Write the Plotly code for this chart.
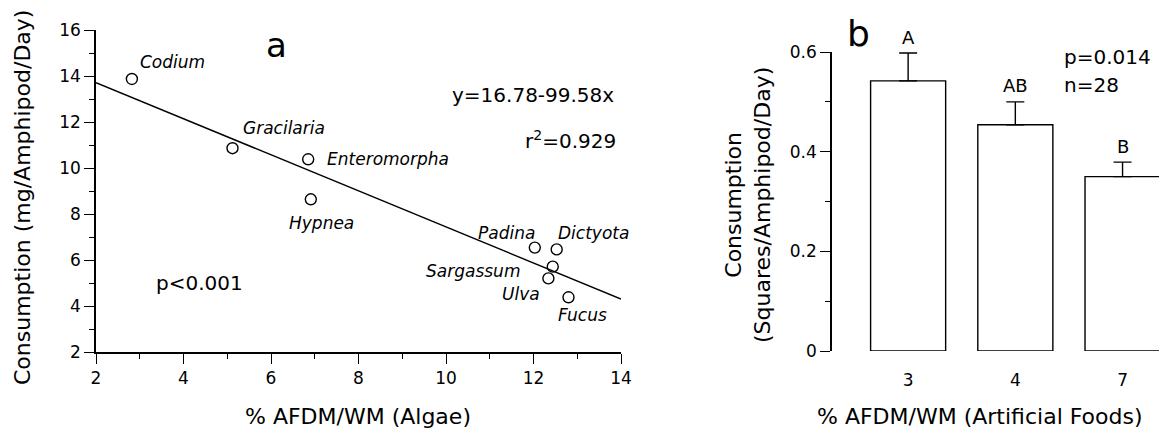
import plotly.graph_objects as go

# ---------------- data: panel a (algae) ----------------
species = ["Codium", "Gracilaria", "Enteromorpha", "Hypnea", "Padina",
           "Dictyota", "Sargassum", "Ulva", "Fucus"]
afdm_algae = [2.82, 5.12, 6.85, 6.91, 12.03, 12.53, 12.44, 12.34, 12.80]
consumption_algae = [13.87, 10.86, 10.38, 8.64, 6.54, 6.46, 5.71, 5.20, 4.38]
fit_x = [2, 14]
fit_y = [13.71, 4.30]

# ---------------- data: panel b (artificial foods) ----------------
food_labels = ["3", "4", "7"]
food_means = [0.542, 0.454, 0.350]
food_se = [0.056, 0.046, 0.029]
food_groups = ["A", "AB", "B"]

W, H = 1159, 428
FONT = "DejaVu Sans"

fig = go.Figure()

fig.add_trace(go.Scatter(
    x=fit_x, y=fit_y, mode="lines",
    line=dict(color="black", width=1.4),
    xaxis="x", yaxis="y", showlegend=False, hoverinfo="skip"))

fig.add_trace(go.Scatter(
    x=afdm_algae, y=consumption_algae, mode="markers",
    marker=dict(symbol="circle-open", size=11, color="black",
                line=dict(width=1.4, color="black")),
    xaxis="x", yaxis="y", showlegend=False, text=species))

pos = list(range(len(food_labels)))
fig.add_trace(go.Bar(
    x=pos, y=food_means, width=0.70,
    marker=dict(color="white", line=dict(color="black", width=1.4)),
    error_y=dict(type="data", symmetric=False, array=food_se,
                 arrayminus=[0] * len(food_se), color="black",
                 thickness=1.4, width=9),
    xaxis="x2", yaxis="y2", showlegend=False))

# species label offsets (pixels) relative to each point
label_style = {
    "Codium": (41, 17, "center"),
    "Gracilaria": (51, 20, "center"),
    "Enteromorpha": (17, 0, "left"),
    "Hypnea": (11, -24, "center"),
    "Padina": (2, 15, "right"),
    "Dictyota": (37, 16, "center"),
    "Sargassum": (-31, -4, "right"),
    "Ulva": (-6, -16, "right"),
    "Fucus": (14, -18, "center"),
}

ann = []
for name, xv, yv in zip(species, afdm_algae, consumption_algae):
    dx, dy, anc = label_style[name]
    ann.append(dict(x=xv, y=yv, xref="x", yref="y", text=name,
                    showarrow=False, xshift=dx, yshift=dy, xanchor=anc,
                    yanchor="middle",
                    font=dict(family=FONT, size=17, style="italic", color="black")))

for p, m, e, g in zip(pos, food_means, food_se, food_groups):
    ann.append(dict(x=p, y=m + e, xref="x2", yref="y2", text=g,
                    showarrow=False, yshift=16, yanchor="middle",
                    font=dict(family=FONT, size=18, color="black")))


def paper(px, py):
    return px / W, 1 - py / H


def txt(px, py, text, size=18, xanchor="center", angle=0, style="normal"):
    x, y = paper(px, py)
    ann.append(dict(x=x, y=y, xref="paper", yref="paper", text=text,
                    showarrow=False, xanchor=xanchor, yanchor="middle",
                    textangle=angle,
                    font=dict(family=FONT, size=size, color="black", style=style)))


txt(276, 45, "a", size=34)
txt(533, 95, "y=16.78-99.58x", size=20)
txt(570, 140, "r<sup>2</sup>=0.929", size=20)
txt(199, 283, "p<0.001", size=20)
txt(22, 198, "Consumption (mg/Amphipod/Day)", size=22, angle=-90)
txt(358, 416, "% AFDM/WM (Algae)", size=22)

txt(858, 33, "b", size=36)
txt(1062, 57, "p=0.014", size=20, xanchor="left")
txt(1062, 85, "n=28", size=20, xanchor="left")
txt(748, 205, "Consumption<br>(Squares/Amphipod/Day)", size=22, angle=-90)
txt(980, 416, "% AFDM/WM (Artificial Foods)", size=22)

axis_font = dict(family=FONT, size=17, color="black")
minor_common = dict(ticks="outside", ticklen=5, tickcolor="black", tickwidth=1.3)

fig.update_layout(
    width=W, height=H,
    margin=dict(l=0, r=0, t=0, b=0, pad=0, autoexpand=False),
    paper_bgcolor="white", plot_bgcolor="white",
    font=dict(family=FONT, color="black"),
    annotations=ann,
    xaxis=dict(domain=[96 / W, 621 / W], range=[2, 14], anchor="y",
               automargin=False,
               showline=True, linecolor="black", linewidth=1.5,
               ticks="outside", ticklen=10, tickwidth=1.3, tickcolor="black",
               tickvals=[2, 4, 6, 8, 10, 12, 14], showgrid=False, zeroline=False,
               minor=dict(dtick=1, **minor_common), tickfont=axis_font),
    yaxis=dict(domain=[(H - 352) / H, (H - 30) / H], range=[2, 16], anchor="x",
               automargin=False,
               showline=True, linecolor="black", linewidth=1.5,
               ticks="outside", ticklen=10, tickwidth=1.3, tickcolor="black",
               tickvals=[2, 4, 6, 8, 10, 12, 14, 16], showgrid=False, zeroline=False,
               minor=dict(dtick=1, **minor_common), tickfont=axis_font),
    xaxis2=dict(domain=[832 / W, 1.0], range=[-0.71, 2.34], anchor="y2",
                automargin=False,
                showline=False, ticks="outside", ticklen=14,
                tickcolor="rgba(0,0,0,0)", tickvals=pos, ticktext=food_labels,
                showgrid=False, zeroline=False, tickfont=axis_font),
    yaxis2=dict(domain=[(H - 351) / H, (H - 52) / H], range=[0, 0.6], anchor="x2",
                automargin=False,
                showline=True, linecolor="black", linewidth=1.5,
                ticks="outside", ticklen=10, tickwidth=1.3, tickcolor="black",
                tickvals=[0, 0.2, 0.4, 0.6], ticktext=["0", "0.2", "0.4", "0.6"],
                showgrid=False, zeroline=False,
                minor=dict(dtick=0.1, **minor_common), tickfont=axis_font),
)

fig.write_html("out.html",
               config={"displayModeBar": False},
               post_script="document.body.style.margin='0';"
                           "document.body.style.overflow='hidden';")
